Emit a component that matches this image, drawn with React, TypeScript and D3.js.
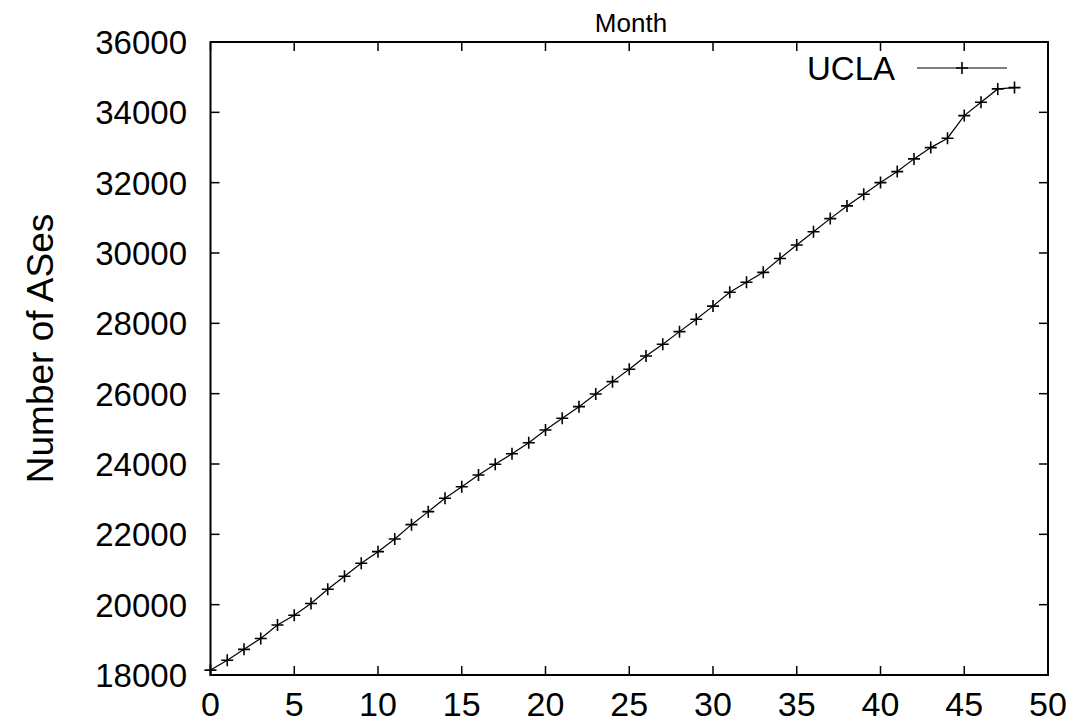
import React from "react";
import * as d3 from "d3";

// Monthly count of ASes seen in the UCLA topology data
const months: number[] = d3.range(0, 49);
const asCounts: number[] = [
  18140, 18420, 18730, 19040, 19420, 19700, 20035, 20437, 20807, 21177,
  21507, 21868, 22275, 22645, 23025, 23355, 23688, 23992, 24290, 24606,
  24968, 25300, 25631, 25992, 26342, 26694, 27072, 27405, 27764, 28116,
  28490, 28884, 29168, 29450, 29845, 30229, 30603, 30978, 31339, 31672,
  32002, 32315, 32676, 32997, 33264, 33907, 34288, 34666, 34703,
];
const xTicks: number[] = [0, 5, 10, 15, 20, 25, 30, 35, 40, 45, 50];
const yTicks: number[] = [18000, 20000, 22000, 24000, 26000, 28000, 30000, 32000, 34000, 36000];
const seriesName = "UCLA";

const W = 1076;
const H = 727;
const left = 210.5;
const right = 1048;
const top = 42;
const bottom = 675;
const tickLen = 9;
const font = "'Liberation Sans', Arial, Helvetica, sans-serif";

const Plus = ({ x, y, s = 6 }: { x: number; y: number; s?: number }) => (
  <path d={`M${x - s},${y}H${x + s}M${x},${y - s}V${y + s}`} stroke="#000" strokeWidth={1.6} fill="none" />
);

export default function App() {
  const x = d3.scaleLinear().domain([0, 50]).range([left, right]);
  const y = d3.scaleLinear().domain([18000, 36000]).range([bottom, top]);
  const line = d3
    .line<number>()
    .x((_, i) => x(months[i]))
    .y((d) => y(d));

  return (
    <svg width={W} height={H} style={{ position: "absolute", left: 0, top: 0, background: "#fff" }}>
      <rect x={0} y={0} width={W} height={H} fill="#fff" />
      {/* ticks on all four sides, pointing inward */}
      {xTicks.map((t) => (
        <g key={"x" + t}>
          <line x1={x(t)} x2={x(t)} y1={bottom} y2={bottom - tickLen} stroke="#000" strokeWidth={1.5} />
          <line x1={x(t)} x2={x(t)} y1={top} y2={top + tickLen} stroke="#000" strokeWidth={1.5} />
          <text x={x(t)} y={716} textAnchor="middle" fontFamily={font} fontSize={34} fill="#000">
            {t}
          </text>
        </g>
      ))}
      {yTicks.map((t) => (
        <g key={"y" + t}>
          <line x1={left} x2={left + tickLen} y1={y(t)} y2={y(t)} stroke="#000" strokeWidth={1.5} />
          <line x1={right} x2={right - tickLen} y1={y(t)} y2={y(t)} stroke="#000" strokeWidth={1.5} />
          <text x={187} y={y(t)} dy="0.36em" textAnchor="end" fontFamily={font} fontSize={33} fill="#000">
            {t}
          </text>
        </g>
      ))}
      <rect x={left} y={top} width={right - left} height={bottom - top} fill="none" stroke="#000" strokeWidth={2} />

      {/* data */}
      <path d={line(asCounts) ?? ""} fill="none" stroke="#000" strokeWidth={1.2} />
      {asCounts.map((v, i) => (
        <Plus key={i} x={x(months[i])} y={y(v)} />
      ))}

      {/* legend */}
      <text x={895} y={68} dy="0.36em" textAnchor="end" fontFamily={font} fontSize={33} fill="#000">
        {seriesName}
      </text>
      <line x1={917} x2={1007} y1={68} y2={68} stroke="#000" strokeWidth={1.2} />
      <Plus x={962} y={68} />

      {/* axis titles */}
      <text x={631} y={32} textAnchor="middle" fontFamily={font} fontSize={26} fill="#000">
        Month
      </text>
      <text
        transform={`translate(53,${(top + bottom) / 2 - 10}) rotate(-90)`}
        textAnchor="middle"
        fontFamily={font}
        fontSize={37}
        fill="#000"
      >
        Number of ASes
      </text>
    </svg>
  );
}
